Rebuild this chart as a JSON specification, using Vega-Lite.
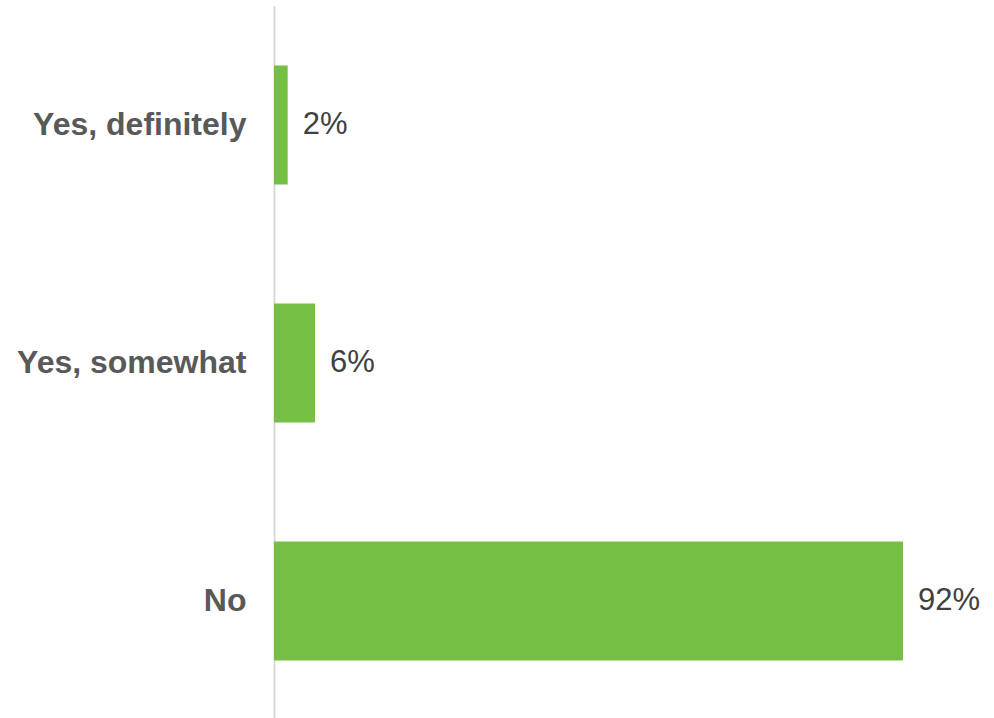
{
  "$schema": "https://vega.github.io/schema/vega-lite/v6.json",
  "autosize": {"type": "none"},
  "width": 629,
  "height": 714,
  "padding": {"left": 274, "top": 6, "right": 91, "bottom": 0},
  "background": "white",
  "config": {"view": {"stroke": null}, "font": "Liberation Sans"},
  "data": {"values": [
    {"answer": "Yes, definitely", "share": 0.02},
    {"answer": "Yes, somewhat", "share": 0.06},
    {"answer": "No", "share": 0.92}
  ]},
  "encoding": {
    "y": {"field": "answer", "type": "nominal", "sort": null,
      "scale": {"paddingInner": 0.5, "paddingOuter": 0.25},
      "axis": {"title": null, "ticks": false, "domainColor": "#d9d9d9", "domainWidth": 2,
        "labelFont": "Liberation Sans", "labelFontSize": 32, "labelFontWeight": "bold",
        "labelColor": "#595959", "labelPadding": 28, "labelLimit": 400}},
    "x": {"field": "share", "type": "quantitative", "scale": {"domain": [0, 0.92], "nice": false}, "axis": null}
  },
  "layer": [
    {"mark": {"type": "bar", "color": "#74bf44"}},
    {"mark": {"type": "text", "align": "left", "baseline": "middle", "dx": 15, "fontSize": 31, "color": "#404040", "font": "Liberation Sans"},
     "encoding": {"text": {"field": "share", "type": "quantitative", "format": ".0%"}}}
  ]
}
